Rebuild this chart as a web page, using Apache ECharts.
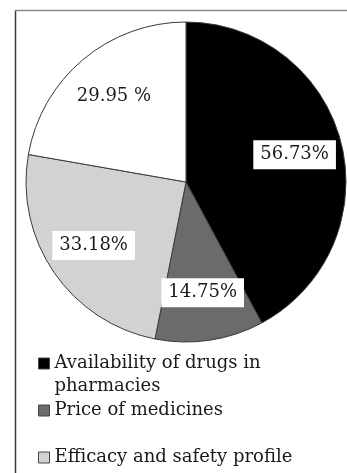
<!DOCTYPE html>
<html>
<head>
<meta charset="utf-8">
<script src="https://cdn.jsdelivr.net/npm/echarts@6/dist/echarts.min.js"></script>
<style>
  html, body { margin: 0; padding: 0; background: #fff; }
  #chart { width: 347px; height: 473px; }
</style>
</head>
<body>
<div id="chart"></div>
<script>
// Reasons reported for choosing a medicine (% of respondents)
const categories = [
  'Availability of drugs in pharmacies',
  'Price of medicines',
  'Efficacy and safety profile',
  'Other'
];
const values = [56.73, 14.75, 33.18, 29.95];
const labelTexts = ['56.73%', '14.75%', '33.18%', '29.95 %'];
const legendTexts = [
  ' \nAvailability of drugs in\npharmacies', // leading blank line keeps the icon beside the first text line
  'Price of medicines',
  'Efficacy and safety profile'
];
const colors = ['#000000', '#6b6b6b', '#d2d2d2', '#ffffff'];

const FONT = 'DejaVu Serif';
const center = [186, 182];
const R = 160;

const pieData = categories.map((name, i) => ({
  name: name,
  value: values[i],
  itemStyle: { color: colors[i] }
}));

const labelData = categories.map((name, i) => ({
  name: name,
  value: values[i],
  label: { formatter: labelTexts[i] }
}));

function legendFor(i, top) {
  return {
    show: true,
    data: [categories[i]],
    left: 38,
    top: top,
    orient: 'vertical',
    itemWidth: 11,
    itemHeight: 11,
    itemGap: 0,
    padding: 0,
    selectedMode: false,
    icon: 'rect',
    itemStyle: { borderColor: '#444', borderWidth: 1 },
    formatter: () => legendTexts[i],
    textStyle: {
      fontFamily: FONT,
      fontSize: 18,
      color: '#1a1a1a',
      lineHeight: 23
    }
  };
}

const chart = echarts.init(document.getElementById('chart'), null, { renderer: 'canvas' });
chart.setOption({
  animation: false,
  backgroundColor: '#ffffff',
  legend: [
    legendFor(0, 329),
    legendFor(1, 399),
    legendFor(2, 446)
  ],
  graphic: [
    { type: 'line', shape: { x1: 15.5, y1: 473, x2: 15.5, y2: 10.5 },
      style: { stroke: '#3a3a3a', lineWidth: 1.5 }, silent: true },
    { type: 'line', shape: { x1: 15, y1: 10.5, x2: 347, y2: 10.5 },
      style: { stroke: '#8a8a8a', lineWidth: 1.5 }, silent: true }
  ],
  series: [
    {
      type: 'pie',
      center: center,
      radius: [0, R],
      startAngle: 90,
      clockwise: true,
      silent: true,
      label: { show: false },
      labelLine: { show: false },
      itemStyle: { borderColor: '#3a3a3a', borderWidth: 1 },
      data: pieData
    },
    {
      // transparent ring used only to place the value labels at ~0.68 R
      type: 'pie',
      center: center,
      radius: [58, R],
      startAngle: 90,
      clockwise: true,
      silent: true,
      legendHoverLink: false,
      itemStyle: { color: 'rgba(0,0,0,0)', borderWidth: 0 },
      labelLine: { show: false },
      label: {
        show: true,
        position: 'inside',
        fontFamily: FONT,
        fontSize: 18,
        color: '#1a1a1a',
        backgroundColor: '#ffffff',
        padding: [6, 7, 5, 7]
      },
      data: labelData
    }
  ]
});
</script>
</body>
</html>
